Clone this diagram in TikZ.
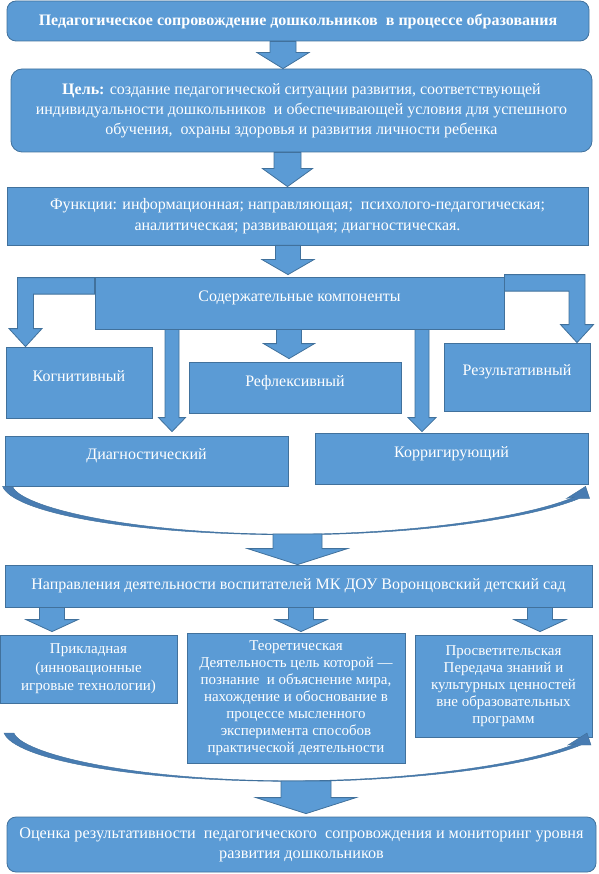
\documentclass[tikz,border=0pt]{standalone}
\usepackage{fontspec}
\setmainfont{Liberation Serif}
\usetikzlibrary{calc}
\definecolor{boxfill}{RGB}{91,155,213}
\definecolor{boxline}{RGB}{65,113,156}
\definecolor{swooshfill}{RGB}{72,124,178}
% block arrow pointing down: from, to, shaft half width, head half width, head length
\newcommand{\blockdown}[5]{%
  \path[arrowblock] let \p1=#1, \p2=#2 in
    (\x2-#3pt,\y1) -- (\x2+#3pt,\y1) -- (\x2+#3pt,\y2+#5pt) -- (\x2+#4pt,\y2+#5pt)
    -- (\x2,\y2) -- (\x2-#4pt,\y2+#5pt) -- (\x2-#3pt,\y2+#5pt) -- cycle;}
% bent block arrow: from (side of box), to (tip), side (1 = goes left, -1 = goes right)
\newcommand{\blockbend}[3]{%
  \path[arrowblock] let \p1=#1, \p2=#2 in
    (\x1,\y1) -- ({\x2-(#3)*8pt},\y1) -- ({\x2-(#3)*8pt},\y2+18pt) -- ({\x2-(#3)*16.5pt},\y2+18pt)
    -- (\x2,\y2) -- ({\x2+(#3)*16.5pt},\y2+18pt) -- ({\x2+(#3)*8pt},\y2+18pt)
    -- ({\x2+(#3)*8pt},\y1-16.5pt) -- (\x1,\y1-16.5pt) -- cycle;}
\tikzset{
  block/.style={
    rectangle,
    draw=boxline,
    line width=0.8pt,
    fill=boxfill,
    text=white,
    align=center,
    inner sep=0pt,
    font=\fontsize{16}{17}\selectfont
  },
  roundblock/.style={
    block,
    rounded corners=9pt
  },
  smallblock/.style={
    block,
    font=\fontsize{15}{17}\selectfont
  },
  lifted/.style={
    text height=11pt,
    text depth=13.5pt
  },
  arrowblock/.style={
    draw=boxline,
    line width=0.8pt,
    fill=boxfill
  },
  swooshblock/.style={
    draw=boxline,
    line width=0.45pt,
    fill=swooshfill
  },
  swoosh/.pic={
    \path[swooshblock] (0,0) .. controls (10,25) and (120,48) .. (287,48.4)
      .. controls (400,48.6) and (520,35) .. (577,12) -- (587,12) -- (583,0)
      -- (564,12) -- (572,10.5) .. controls (520,32.5) and (400,47.8) .. (287,47.8)
      .. controls (125,47.5) and (17,20) .. (10,0) -- cycle;
  }
}

\begin{document}
\begin{tikzpicture}[x=1pt, y=-1pt]
  \useasboundingbox (0,0) rectangle (598,874);

  \node[roundblock, font=\fontsize{16}{17}\selectfont\bfseries, minimum width=582pt, minimum height=40pt] (title) at (298,21) {Педагогическое сопровождение дошкольников \ в процессе образования};
  \node[roundblock, font=\fontsize{16}{20}\selectfont, rounded corners=11pt, minimum width=581pt, minimum height=83pt] (goal) at (301.5,110.5) {\textbf{Цель:} создание педагогической ситуации развития, соответствующей\\индивидуальности дошкольников \ и обеспечивающей условия для успешного\\обучения, \ охраны здоровья и развития личности ребенка};
  \node[block, font=\fontsize{16}{21}\selectfont, minimum width=581pt, minimum height=58pt] (func) at (297.5,216) {Функции: информационная; направляющая; \ психолого-педагогическая;\\аналитическая; развивающая; диагностическая.};
  \node[block, lifted, minimum width=409pt, minimum height=52pt] (comp) at (299.5,303) {Содержательные компоненты};

  \node[block, lifted, minimum width=146pt, minimum height=71pt] (kog) at (79,382.5) {Когнитивный};
  \node[block, lifted, minimum width=212pt, minimum height=51pt] (refl) at (295,387.5) {Рефлексивный};
  \node[block, lifted, minimum width=146pt, minimum height=68pt] (rez) at (517,377) {Результативный};
  \node[block, lifted, minimum width=283pt, minimum height=50pt] (diag) at (146.5,461) {Диагностический};
  \node[block, lifted, minimum width=273pt, minimum height=51pt] (korr) at (451.5,458.5) {Корригирующий};

  \node[block, minimum width=587pt, minimum height=42pt] (dirs) at (298.5,586) {Направления деятельности воспитателей МК ДОУ Воронцовский детский сад};
  \node[smallblock, font=\fontsize{15}{18.5}\selectfont, minimum width=177pt, minimum height=68pt] (prik) at (88.5,669) {Прикладная\\(инновационные\\игровые технологии)};
  \node[smallblock, minimum width=218pt, minimum height=130pt] (teor) at (296,698) {Теоретическая\\Деятельность цель которой —\\познание \ и объяснение мира,\\нахождение и обоснование в\\процессе мысленного\\эксперимента способов\\практической деятельности};
  \node[smallblock, minimum width=177pt, minimum height=102pt] (pros) at (503.5,686) {Просветительская\\Передача знаний и\\культурных ценностей\\вне образовательных\\программ};
  \node[roundblock, font=\fontsize{16.2}{20}\selectfont, minimum width=589pt, minimum height=55pt] (final) at (301.5,844.5) {Оценка результативности \ педагогического \ сопровождения и мониторинг уровня\\развития дошкольников};

  \coordinate (sw1) at (297.5,534);
  \coordinate (sw2start) at (4,733);
  \coordinate (sw2) at (306,781);

  % arrows
  \blockdown{(title.south)}{($(goal.north)+(-18.5,0)$)}{13}{26}{16}
  \blockdown{(goal.south)}{($(func.north)+(-10,0)$)}{13.5}{25}{18}
  \blockdown{(func.south)}{($(comp.north)+(-11.5,-2)$)}{12.5}{26}{15}
  \blockbend{($(comp.north west)+(0,1)$)}{($(kog.north)+(-53.5,0)$)}{1}
  \blockbend{($(comp.north east)+(0,-2)$)}{($(rez.north)+(60,0)$)}{-1}
  \blockdown{(comp.south)}{($(diag.north)+(25.5,-4)$)}{7}{13.5}{14}
  \blockdown{(comp.south)}{($(refl.north)+(-6,-3)$)}{12.5}{25.5}{15}
  \blockdown{(comp.south)}{($(korr.north)+(-29.5,-1)$)}{7}{14}{14}
  \pic at ($(diag.south west)+(-2,0)$) {swoosh};
  \blockdown{(sw1)}{($(dirs.north)+(-1,0)$)}{24.5}{50}{16}
  \blockdown{(dirs.south)}{($(prik.north)+(-36.5,-3)$)}{12.5}{26}{12}
  \blockdown{(dirs.south)}{($(teor.north)+(5,-1)$)}{12.5}{26}{12}
  \blockdown{(dirs.south)}{($(pros.north)+(36.5,-3)$)}{12.5}{26}{12}
  \pic at (sw2start) {swoosh};
  \blockdown{(sw2)}{($(final.north)+(4.5,-3)$)}{25}{50}{16}
\end{tikzpicture}
\end{document}
